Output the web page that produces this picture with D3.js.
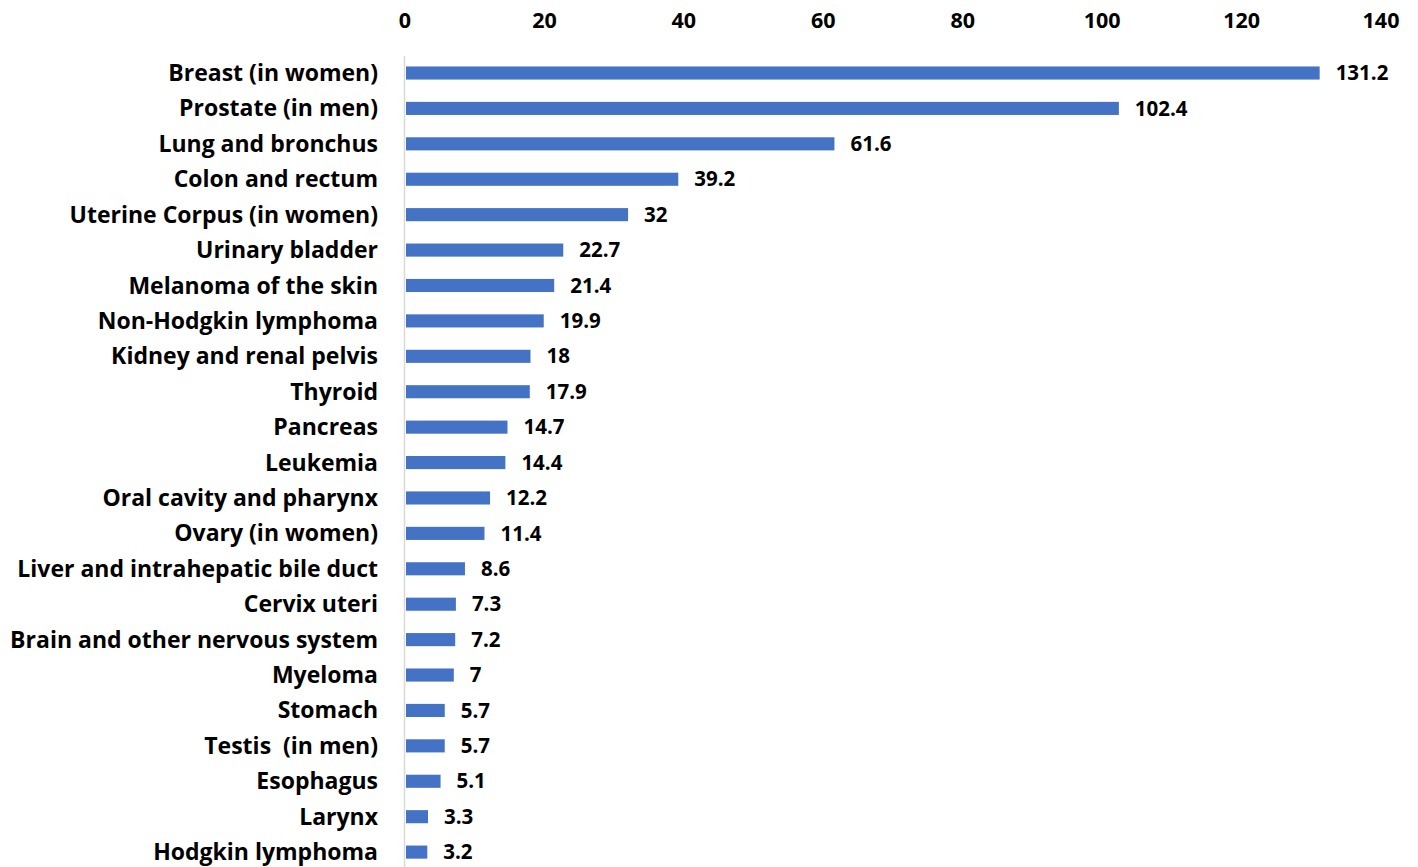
<!DOCTYPE html>
<html><head><meta charset="utf-8">
<script src="https://cdn.jsdelivr.net/npm/d3@7"></script>
<style>body{margin:0;background:#fff;} text{font-family:"Open Sans", Lato, sans-serif;font-weight:700;}</style>
</head><body><svg id="c" width="1418" height="867"></svg>
<script>
const categories = ["Breast (in women)","Prostate (in men)","Lung and bronchus","Colon and rectum","Uterine Corpus (in women)","Urinary bladder","Melanoma of the skin","Non-Hodgkin lymphoma","Kidney and renal pelvis","Thyroid","Pancreas","Leukemia","Oral cavity and pharynx","Ovary (in women)","Liver and intrahepatic bile duct","Cervix uteri","Brain and other nervous system","Myeloma","Stomach","Testis  (in men)","Esophagus","Larynx","Hodgkin lymphoma"];
const values = [131.2,102.4,61.6,39.2,32,22.7,21.4,19.9,18,17.9,14.7,14.4,12.2,11.4,8.6,7.3,7.2,7,5.7,5.7,5.1,3.3,3.2];
const xTicks = [0,20,40,60,80,100,120,140];

const svg = d3.select("#c");
const x = d3.scaleLinear().domain([0,140]).range([405,1381]);
const y = d3.scaleBand().domain(categories).range([55.3,869.8]).paddingInner(0.63).paddingOuter(0.315);

svg.append("g").selectAll("text").data(xTicks).join("text")
  .attr("x", d=>x(d)).attr("y", 20).attr("dy","0.35em").attr("text-anchor","middle")
  .attr("font-size", 21.5).attr("fill","#000").text(d=>d);

svg.append("line").attr("x1",x(0)-0.5).attr("x2",x(0)-0.5).attr("y1",56).attr("y2",867)
  .attr("stroke","#d9d9d9").attr("stroke-width",1.5);

svg.append("g").selectAll("rect").data(values).join("rect")
  .attr("x", x(0)+1).attr("y", (d,i)=>y(categories[i]))
  .attr("width", d=>x(d)-x(0)-1).attr("height", y.bandwidth())
  .attr("fill","#4472C4");

svg.append("g").selectAll("text").data(categories).join("text")
  .attr("x", 378).attr("y", d=>y(d)+y.bandwidth()/2).attr("dy","0.35em")
  .attr("text-anchor","end").attr("font-size",23).attr("fill","#000")
  .style("white-space","pre").attr("xml:space","preserve").text(d=>d);

svg.append("g").selectAll("text").data(values).join("text")
  .attr("x", d=>x(d)+16).attr("y", (d,i)=>y(categories[i])+y.bandwidth()/2).attr("dy","0.35em")
  .attr("font-size",20.5).attr("fill","#000").text(d=>d);
</script></body></html>
